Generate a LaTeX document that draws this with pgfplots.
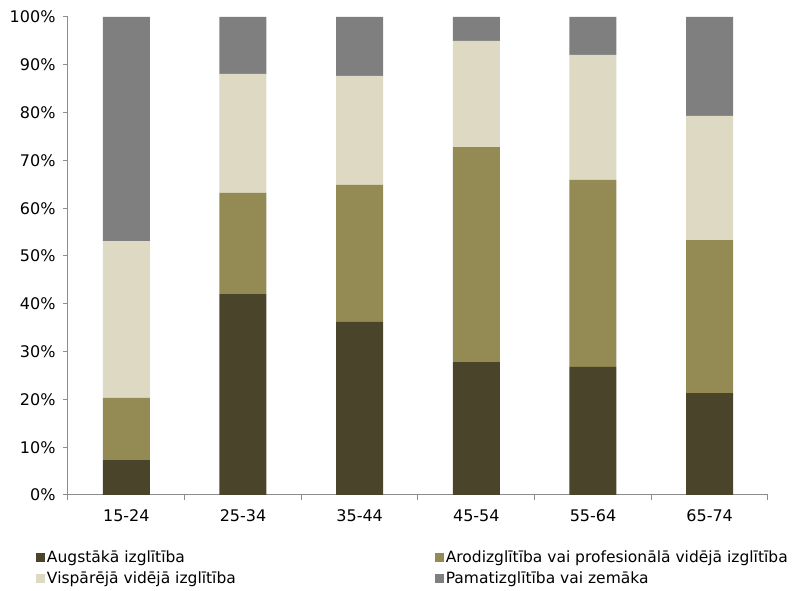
\documentclass[border=0pt]{standalone}
\usepackage{pgfplots}
\pgfplotsset{compat=1.18}
\usepackage{fontspec}
\setmainfont{DejaVu Sans}
\definecolor{cA}{HTML}{4A452A}
\definecolor{cB}{HTML}{948A54}
\definecolor{cC}{HTML}{DDD9C3}
\definecolor{cD}{HTML}{7F7F7F}
\definecolor{axc}{HTML}{8C8C8C}
\pgfplotsset{
  sq/.style={legend image code/.code={\fill[##1,draw=none] (0pt,-4.5pt) rectangle (9pt,4.5pt);}},
}
\begin{document}
\begin{tikzpicture}
\path[use as bounding box] (-68pt,-96pt) rectangle (733pt,495pt);
\begin{axis}[
  at={(0pt,0pt)}, anchor=south west,
  scale only axis, width=700pt, height=478pt,
  ybar stacked, bar width=47pt,
  xmin=-0.5, xmax=5.5, ymin=0, ymax=100,
  axis x line*=bottom, axis y line*=left,
  axis line style={axc, line width=1pt},
  xtick={0,1,2,3,4,5},
  xticklabels={15-24,25-34,35-44,45-54,55-64,65-74},
  major x tick style={draw=none},
  minor xtick={-0.5,0.5,1.5,2.5,3.5,4.5,5.5},
  minor tick length=5pt,
  minor x tick style={axc, line width=1pt},
  ytick={0,10,...,100},
  yticklabel={\pgfmathprintnumber{\tick}\%},
  major y tick style={axc, line width=1pt},
  major tick length=5pt,
  tick align=outside,
  /pgf/number format/assume math mode=true,
  tick label style={font=\fontsize{16}{19}\selectfont, text=black},
  xticklabel style={yshift=-6pt},
  yticklabel style={xshift=-4pt},
  legend columns=2,
  legend cell align=left,
  legend style={at={(-0.046,-0.113)}, anchor=north west, draw=none,
    font=\fontsize{15.5}{18}\selectfont, inner sep=0pt,
    row sep=3pt,
    /tikz/every even column/.append style={column sep=197pt},
    nodes={inner sep=2pt}},
]
\addplot[fill=cA, draw=none, sq] coordinates {(0,7.3) (1,42.0) (2,36.2) (3,27.8) (4,26.8) (5,21.3)};
\addplot[fill=cB, draw=none, sq] coordinates {(0,13.0) (1,21.2) (2,28.7) (3,45.0) (4,39.1) (5,32.0)};
\addplot[fill=cC, draw=none, sq] coordinates {(0,32.8) (1,24.9) (2,22.8) (3,22.2) (4,26.2) (5,26.0)};
\addplot[fill=cD, draw=none, sq] coordinates {(0,46.9) (1,11.9) (2,12.3) (3,5.0) (4,7.9) (5,20.7)};
\legend{Augstākā izglītība, Arodizglītība vai profesionālā vidējā izglītība, Vispārējā vidējā izglītība, Pamatizglītība vai zemāka}
\end{axis}
\end{tikzpicture}
\end{document}
